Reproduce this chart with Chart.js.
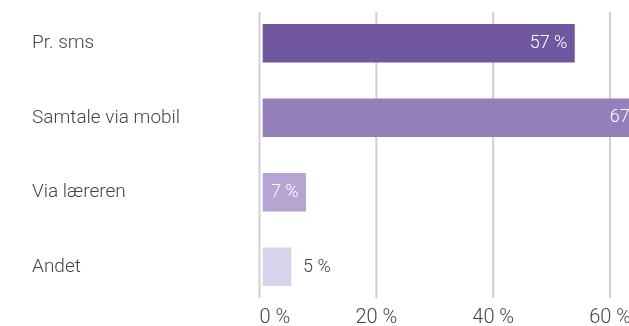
<!DOCTYPE html>
<html>
<head>
<meta charset="utf-8">
<script src="https://cdn.jsdelivr.net/npm/chart.js@4/dist/chart.umd.min.js"></script>
<style>
  html, body { margin: 0; padding: 0; background: #fff; }
  #wrap { width: 629px; height: 326px; }
</style>
</head>
<body>
<div id="wrap"><canvas id="chart"></canvas></div>
<script>
// data
const categories = ["Pr. sms", "Samtale via mobil", "Via læreren", "Andet"];
const barEnds = [53.9, 67.6, 7.9, 5.4];           // where each bar ends on the % axis
const valueLabels = ["57 %", "67 %", "7 %", "5 %"];
const barColors = ["#7157a0", "#957fba", "#b4a5d3", "#d8d3eb"];
const gridValues = [0, 20, 40, 60];

const FONT = "Roboto, 'Open Sans', sans-serif";
const TEXT_COLOR = "#454545";

// gridlines drawn a bit shorter than the chart area
const gridPlugin = {
  id: "shortGrid",
  beforeDatasetsDraw(c) {
    const ctx = c.ctx;
    const area = c.chartArea;
    const x = c.scales.x;
    ctx.save();
    ctx.strokeStyle = "#d0d0d0";
    ctx.lineWidth = 2;
    gridValues.forEach(v => {
      const px = x.getPixelForValue(v);
      ctx.beginPath();
      ctx.moveTo(px, area.top + 6);
      ctx.lineTo(px, area.bottom - 6);
      ctx.stroke();
    });
    ctx.restore();
  }
};

// value labels: inside the bar when there is room, else just after it
const valuePlugin = {
  id: "valueLabels",
  afterDatasetsDraw(c) {
    const ctx = c.ctx;
    const meta = c.getDatasetMeta(0);
    ctx.save();
    ctx.font = "300 18px " + FONT;
    ctx.textBaseline = "middle";
    meta.data.forEach((bar, i) => {
      const txt = valueLabels[i];
      const w = ctx.measureText(txt).width;
      const barW = bar.x - bar.base;
      if (w + 14 <= barW) {
        ctx.fillStyle = "#ffffff";
        ctx.textAlign = "right";
        ctx.fillText(txt, bar.x - 7, bar.y);
      } else {
        ctx.fillStyle = TEXT_COLOR;
        ctx.textAlign = "left";
        ctx.fillText(txt, bar.x + 12, bar.y + 1);
      }
    });
    ctx.restore();
  }
};

new Chart(document.getElementById("chart"), {
  type: "bar",
  data: {
    labels: categories,
    datasets: [{
      data: barEnds,
      base: 0.6,
      backgroundColor: barColors,
      barThickness: 38,
      clip: false
    }]
  },
  options: {
    indexAxis: "y",
    responsive: true,
    maintainAspectRatio: false,
    animation: false,
    layout: { padding: { left: 32, top: 6, right: 0, bottom: 0 } },
    plugins: { legend: { display: false }, tooltip: { enabled: false } },
    scales: {
      x: {
        min: 0,
        max: 62.9,
        grid: { display: false, drawTicks: false },
        border: { display: false },
        afterBuildTicks: s => {
          s.ticks = gridValues.concat([s.max]).map(v => ({ value: v }));
        },
        afterFit: s => { s.height = 22; },
        ticks: {
          autoSkip: false,
          maxRotation: 0,
          align: "inner",
          padding: 2,
          color: TEXT_COLOR,
          font: { family: FONT, size: 20, weight: 300 },
          callback: v => gridValues.includes(v) ? v + " %" : ""
        }
      },
      y: {
        grid: { display: false, drawTicks: false },
        border: { display: false },
        afterFit: s => {
          s.width = 227.5;
          s.paddingTop = 0;
          s.paddingBottom = 0;
        },
        ticks: {
          crossAlign: "far",
          color: TEXT_COLOR,
          font: { family: FONT, size: 19, weight: 300 }
        }
      }
    }
  },
  plugins: [gridPlugin, valuePlugin]
});
</script>
</body>
</html>
